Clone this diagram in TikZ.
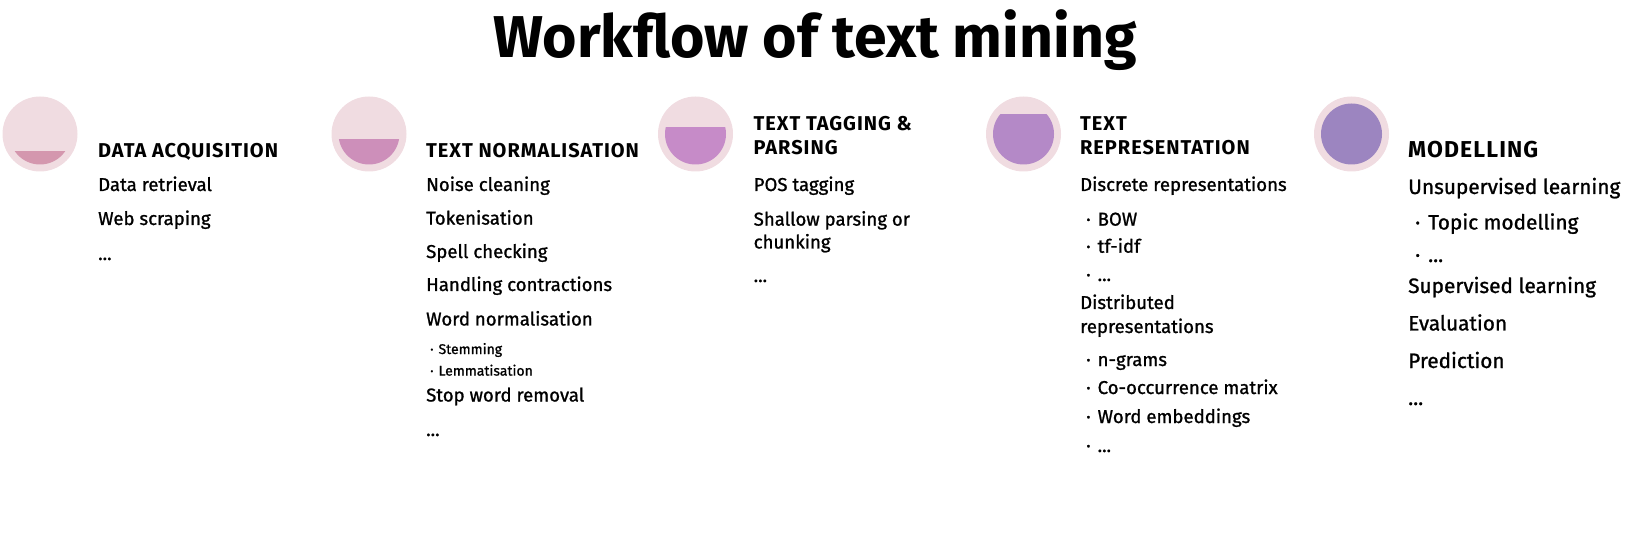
\documentclass[tikz,border=0pt]{standalone}
\usepackage{fontspec}
\setmainfont{Fira Sans}
\newfontfamily\itemfont{Fira Sans}[FakeBold=1.1]
\newfontfamily\headfont{Fira Sans}[LetterSpace=4.8,BoldFont={Fira Sans Bold}]
\definecolor{ringcol}{HTML}{F0DCE1}
\definecolor{fillA}{HTML}{D497AE}
\definecolor{fillB}{HTML}{CD8FBA}
\definecolor{fillC}{HTML}{C68BC8}
\definecolor{fillD}{HTML}{B489C7}
\definecolor{fillE}{HTML}{9C85C0}
\begin{document}
\begin{tikzpicture}[x=1pt,y=-1pt,
  headtxt/.style={anchor=base west,inner sep=0pt,font=\headfont\bfseries\fontsize{20}{22}\selectfont},
  bighead/.style={anchor=base west,inner sep=0pt,font=\headfont\bfseries\fontsize{23}{24}\selectfont},
  itemtxt/.style={anchor=base west,inner sep=0pt,font=\itemfont\fontsize{18.6}{20}\selectfont},
  bigitem/.style={anchor=base west,inner sep=0pt,font=\itemfont\fontsize{20.8}{22}\selectfont},
  smalltxt/.style={anchor=base west,inner sep=0pt,font=\itemfont\fontsize{14}{15}\selectfont},
  ring/.style={circle,fill=ringcol,minimum size=75pt,inner sep=0pt}]
\useasboundingbox (0,0) rectangle (1632,534);
\node[anchor=base,inner sep=0pt,font=\bfseries\fontsize{59}{66}\selectfont] (title) at (815,57.5) {Workflow of text mining};

% circles
\node[ring] (c1) at (40,134) {};
\node[ring] (c2) at (369,134) {};
\node[ring] (c3) at (695.5,134) {};
\node[ring] (c4) at (1023.5,134) {};
\node[ring] (c5) at (1351.5,134) {};
\begin{scope}\clip (0,151.7) rectangle (100,170); \fill[fillA] (c1.center) circle (30.5pt); \end{scope}
\begin{scope}\clip (330,139.3) rectangle (410,170); \fill[fillB] (c2.center) circle (30.5pt); \end{scope}
\begin{scope}\clip (650,127.7) rectangle (740,170); \fill[fillC] (c3.center) circle (30.5pt); \end{scope}
\begin{scope}\clip (980,115) rectangle (1070,170); \fill[fillD] (c4.center) circle (30.5pt); \end{scope}
\fill[fillE] (c5.center) circle (30.5pt);

% column 1
\node[headtxt] (h1) at (98,157.5) {DATA ACQUISITION};
\node[itemtxt] (a1) at (98,191) {Data retrieval};
\node[itemtxt] (a2) at (98,225) {Web scraping};
\node[itemtxt] (a3) at (98,260) {...};

% column 2
\node[headtxt] (h2) at (426,157.5) {TEXT NORMALISATION};
\node[itemtxt] (b1) at (426,191) {Noise cleaning};
\node[itemtxt] (b2) at (426,224.6) {Tokenisation};
\node[itemtxt] (b3) at (426,258) {Spell checking};
\node[itemtxt] (b4) at (426,291) {Handling contractions};
\node[itemtxt] (b5) at (426,325.5) {Word normalisation};
\node[smalltxt] (b6) at (430,354) {·\hspace{5pt}Stemming};
\node[smalltxt] (b7) at (430,375.6) {·\hspace{5pt}Lemmatisation};
\node[itemtxt] (b8) at (426,401.5) {Stop word removal};
\node[itemtxt] (b9) at (426,436) {...};

% column 3
\node[headtxt] (h3) at (753.5,131) {TEXT TAGGING \&};
\node[headtxt] (h3b) at (753.5,155) {PARSING};
\node[itemtxt] (t1) at (753.5,191) {POS tagging};
\node[itemtxt] (t2) at (753.5,225.6) {Shallow parsing or};
\node[itemtxt] (t3) at (753.5,248.5) {chunking};
\node[itemtxt] (t4) at (753.5,282) {...};

% column 4
\node[headtxt] (h4) at (1080,131) {TEXT};
\node[headtxt] (h4b) at (1080,155) {REPRESENTATION};
\node[itemtxt] (r1) at (1080,191) {Discrete representations};
\node[itemtxt] (r2) at (1086,225.6) {·\hspace{7pt}BOW};
\node[itemtxt] (r3) at (1086,252.7) {·\hspace{7pt}tf-idf};
\node[itemtxt] (r4) at (1086,281) {·\hspace{7pt}...};
\node[itemtxt] (r5) at (1080,309) {Distributed};
\node[itemtxt] (r6) at (1080,333) {representations};
\node[itemtxt] (r7) at (1086,366) {·\hspace{7pt}n-grams};
\node[itemtxt] (r8) at (1086,394) {·\hspace{7pt}Co-occurrence matrix};
\node[itemtxt] (r9) at (1086,423) {·\hspace{7pt}Word embeddings};
\node[itemtxt] (r10) at (1086,452) {·\hspace{7pt}...};

% column 5
\node[bighead] (h5) at (1408,158) {MODELLING};
\node[bigitem] (m1) at (1408,194) {Unsupervised learning};
\node[bigitem] (m2) at (1415,229.5) {·\hspace{8pt}Topic modelling};
\node[bigitem] (m3) at (1415,262) {·\hspace{8pt}...};
\node[bigitem] (m4) at (1408,293) {Supervised learning};
\node[bigitem] (m5) at (1408,330.5) {Evaluation};
\node[bigitem] (m6) at (1408,368) {Prediction};
\node[bigitem] (m7) at (1408,405) {...};
\end{tikzpicture}
\end{document}
